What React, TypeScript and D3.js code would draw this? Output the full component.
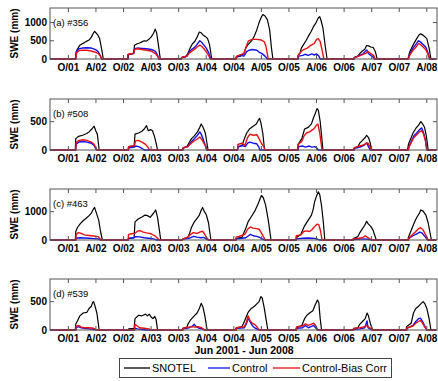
import * as d3 from 'd3'

// season k starts on Oct 1 of (2001 + k); points are [months after Oct 1, SWE mm]
type Pt = [number, number]

const snotelA: Pt[][] = [
  [[1.5,0],[1.7,200],[2.0,280],[2.5,380],[3.0,420],[3.5,450],[4.0,490],[4.5,520],[5.0,600],[5.4,700],[5.7,760],[6.0,720],[6.4,660],[6.8,560],[7.2,300],[7.6,0]],
  [[0.9,0],[1.0,120],[1.6,140],[2.2,160],[2.4,380],[3.0,420],[3.5,440],[4.0,470],[4.5,500],[5.0,490],[5.5,540],[6.0,600],[6.5,700],[6.9,820],[7.2,720],[7.6,380],[8.0,0]],
  [[0.5,0],[0.6,40],[1.5,60],[2.0,150],[2.5,300],[3.0,420],[3.5,480],[4.0,600],[4.5,740],[4.9,720],[5.3,660],[5.8,620],[6.3,560],[6.7,400],[7.2,0]],
  [[0.4,0],[0.5,50],[1.5,80],[2.2,150],[2.6,300],[3.0,380],[3.5,450],[4.0,520],[4.5,640],[5.0,800],[5.5,1000],[6.0,1150],[6.3,1220],[6.8,1180],[7.3,1080],[7.8,800],[8.2,300],[8.5,0]],
  [[1.9,0],[2.0,100],[2.4,160],[2.7,300],[3.2,400],[3.7,500],[4.2,620],[4.8,750],[5.3,880],[5.9,1000],[6.4,1130],[6.7,1160],[7.0,1050],[7.4,850],[7.9,350],[8.3,0]],
  [[2.1,0],[2.2,40],[3.0,80],[3.4,150],[4.0,220],[4.5,270],[4.9,370],[5.3,360],[5.8,330],[6.3,320],[6.8,200],[7.2,0]],
  [[1.9,0],[2.0,60],[2.3,200],[2.8,330],[3.3,450],[3.8,560],[4.3,660],[4.6,690],[5.0,670],[5.5,620],[6.0,560],[6.5,300],[6.9,0]],
]
const controlA: Pt[][] = [
  [[1.6,0],[1.8,220],[2.3,280],[3,300],[4,310],[5,300],[5.5,280],[6,250],[6.5,200],[6.9,100],[7.2,0]],
  [[1.0,0],[1.1,120],[2.2,150],[2.4,280],[3,300],[4,290],[5,280],[6,260],[6.5,240],[7,200],[7.4,100],[7.7,0]],
  [[0.6,0],[0.7,40],[1.8,80],[2.3,200],[3,280],[3.5,320],[4,400],[4.6,500],[5,460],[5.5,380],[6,300],[6.5,180],[7,0]],
  [[0.5,0],[0.6,60],[1.5,100],[2.2,80],[2.8,200],[3.3,240],[4,260],[5,240],[5.6,180],[6.2,140],[6.8,80],[7.3,0]],
  [[2.0,0],[2.1,80],[3.0,100],[3.5,130],[4.2,100],[5.0,140],[5.5,110],[6.0,140],[6.5,80],[6.8,0]],
  [[2.2,0],[2.3,40],[3.4,100],[4.2,150],[4.9,250],[5.3,150],[5.8,100],[6.3,60],[6.6,0]],
  [[2.0,0],[2.1,60],[2.5,180],[3.0,300],[3.5,380],[4.2,500],[4.6,470],[5.2,400],[5.8,320],[6.3,150],[6.6,0]],
]
const biasA: Pt[][] = [
  [[1.6,0],[1.8,170],[2.3,230],[3,240],[4,240],[5,220],[5.5,200],[6,180],[6.5,150],[7,80],[7.3,0]],
  [[0.9,0],[1.0,130],[2.2,150],[2.4,260],[3,280],[4,260],[5,240],[6,220],[6.5,180],[7,140],[7.5,60],[7.8,0]],
  [[0.6,0],[0.7,40],[1.8,80],[2.3,160],[3,230],[3.5,270],[4,330],[4.6,380],[5,350],[5.5,280],[6,200],[6.5,100],[6.9,0]],
  [[0.5,0],[0.6,80],[1.5,120],[2.2,150],[2.8,380],[3.2,500],[4,540],[5,540],[6,520],[6.6,480],[7.0,350],[7.5,0]],
  [[1.9,0],[2.0,100],[2.6,200],[3.2,260],[4.0,300],[4.8,380],[5.5,420],[6.0,540],[6.4,560],[6.8,480],[7.2,250],[7.6,0]],
  [[2.1,0],[2.2,40],[3.2,80],[4.0,120],[4.8,160],[5.3,200],[5.8,150],[6.4,100],[6.8,0]],
  [[2.0,0],[2.1,60],[2.5,150],[3.0,240],[3.6,320],[4.2,420],[4.6,400],[5.2,330],[5.8,250],[6.3,120],[6.7,0]],
]

const snotelB: Pt[][] = [
  [[1.5,0],[1.6,200],[2.2,240],[3.1,260],[4.0,290],[4.5,320],[5.2,380],[5.6,420],[6.0,330],[6.3,280],[6.7,0]],
  [[1.0,0],[1.1,60],[2.3,70],[2.5,280],[3.3,300],[4.0,330],[4.5,370],[5.0,430],[5.4,340],[5.9,360],[6.3,340],[6.7,250],[7.1,120],[7.4,0]],
  [[0.8,0],[0.9,30],[1.8,60],[2.2,120],[2.8,200],[3.4,250],[4.1,320],[4.6,400],[4.9,460],[5.3,400],[5.8,300],[6.4,0]],
  [[0.8,0],[0.9,50],[1.8,80],[2.3,200],[2.8,300],[3.4,370],[4.2,420],[4.9,460],[5.3,520],[5.6,560],[5.9,480],[6.3,300],[6.7,0]],
  [[1.9,0],[2.0,100],[2.8,200],[3.4,370],[4.2,400],[4.9,460],[5.3,560],[5.7,640],[6.1,730],[6.4,700],[6.8,500],[7.1,250],[7.4,0]],
  [[2.1,0],[2.2,30],[3.0,60],[3.4,120],[4.0,170],[4.6,220],[4.9,260],[5.3,220],[5.6,150],[6.0,0]],
  [[1.8,0],[2.0,100],[2.5,200],[3.0,300],[3.6,380],[4.2,440],[4.7,500],[5.1,460],[5.5,400],[5.9,250],[6.3,0]],
]
const controlB: Pt[][] = [
  [[1.6,0],[1.7,100],[2.3,140],[3.2,150],[4.0,140],[5.0,120],[5.6,80],[6.1,0]],
  [[1.1,0],[1.2,40],[2.4,50],[2.6,70],[3.3,60],[4.0,30],[4.5,0]],
  [[0.9,0],[1.0,40],[2.0,60],[2.5,120],[3.2,180],[4.0,250],[4.6,320],[4.9,280],[5.3,200],[5.8,80],[6.1,0]],
  [[0.8,0],[0.9,60],[1.8,80],[2.5,60],[3.0,120],[3.5,140],[4.2,120],[5.0,110],[5.4,60],[5.7,0]],
  [[2.0,0],[2.1,60],[3.0,70],[3.6,50],[4.4,70],[5.0,50],[5.6,60],[6.0,40],[6.4,0]],
  [[2.2,0],[2.3,30],[3.5,50],[4.3,80],[4.9,130],[5.3,60],[5.7,0]],
  [[2.0,0],[2.1,50],[2.6,150],[3.2,250],[3.8,300],[4.4,360],[4.9,390],[5.3,300],[5.7,180],[6.0,0]],
]
const biasB: Pt[][] = [
  [[1.6,0],[1.7,130],[2.3,170],[3.2,180],[4.0,170],[5.0,140],[5.6,100],[6.2,0]],
  [[1.0,0],[1.1,60],[2.4,80],[2.6,160],[3.2,170],[4.0,140],[4.8,100],[5.4,40],[5.7,0]],
  [[0.9,0],[1.0,40],[2.0,60],[2.5,100],[3.2,150],[4.0,190],[4.6,230],[4.9,200],[5.3,150],[5.9,60],[6.2,0]],
  [[0.8,0],[0.9,100],[1.8,120],[2.4,80],[3.0,220],[3.5,280],[4.2,260],[5.0,270],[5.5,200],[6.0,120],[6.5,60],[6.8,0]],
  [[1.9,0],[2.0,100],[2.8,150],[3.3,250],[3.8,300],[4.5,320],[5.0,350],[5.5,380],[6.0,440],[6.3,460],[6.7,300],[7.0,120],[7.2,0]],
  [[2.1,0],[2.2,40],[3.4,70],[4.2,90],[4.8,110],[5.2,120],[5.6,60],[5.9,0]],
  [[2.0,0],[2.1,50],[2.6,130],[3.2,220],[3.8,270],[4.4,320],[4.9,340],[5.3,280],[5.7,160],[6.0,0]],
]

const snotelC: Pt[][] = [
  [[1.5,0],[1.6,300],[2.0,450],[2.6,580],[3.2,680],[3.8,760],[4.5,860],[5.0,950],[5.4,1080],[5.7,1150],[6.1,950],[6.6,700],[7.0,300],[7.4,0]],
  [[1.0,0],[1.1,50],[2.3,80],[2.5,640],[3.2,740],[4.1,820],[4.7,880],[5.2,860],[5.8,800],[6.3,900],[6.7,980],[7.0,1060],[7.4,800],[7.8,350],[8.1,0]],
  [[0.8,0],[0.9,30],[2.0,100],[2.3,200],[2.8,450],[3.4,640],[4.0,760],[4.5,880],[4.9,1050],[5.2,1150],[5.6,1000],[6.0,900],[6.5,600],[7.0,0]],
  [[0.4,0],[0.5,50],[1.8,100],[2.3,300],[2.7,450],[3.1,640],[3.8,820],[4.5,1000],[5.2,1240],[5.7,1450],[6.0,1570],[6.4,1500],[6.9,1250],[7.5,700],[8.1,0]],
  [[1.5,0],[1.6,80],[2.6,200],[3.0,350],[3.4,500],[4.2,700],[4.9,880],[5.3,1100],[5.6,1360],[6.0,1550],[6.4,1700],[6.7,1600],[7.1,1200],[7.5,600],[7.8,0]],
  [[1.9,0],[2.0,50],[3.0,120],[3.4,250],[4.0,400],[4.5,520],[4.9,660],[5.3,560],[5.8,480],[6.3,350],[7.0,0]],
  [[1.9,0],[2.0,100],[2.5,300],[3.0,500],[3.5,700],[3.9,820],[4.4,950],[4.7,1060],[5.2,1020],[5.8,880],[6.3,600],[7.0,0]],
]
const controlC: Pt[][] = [
  [[1.6,0],[1.7,60],[2.5,80],[3.5,70],[4.5,60],[5.5,50],[6.5,40],[7.0,0]],
  [[1.0,0],[1.1,60],[2.3,80],[2.6,120],[3.5,110],[4.5,80],[5.5,60],[6.5,40],[7.2,0]],
  [[0.8,0],[0.9,30],[2.0,50],[2.6,80],[3.3,130],[4.0,100],[4.8,80],[5.4,90],[6.0,40],[6.4,0]],
  [[0.5,0],[0.6,40],[1.8,60],[2.6,80],[3.2,150],[3.6,200],[4.2,150],[5.0,130],[5.6,90],[6.2,40],[6.6,0]],
  [[1.6,0],[1.7,40],[3.0,60],[4.0,70],[5.0,60],[6.0,50],[6.6,0]],
  [[2.0,0],[2.1,20],[3.5,30],[4.5,40],[5.5,20],[6.0,0]],
  [[2.0,0],[2.1,60],[3.0,150],[3.8,220],[4.5,280],[5.0,240],[5.6,120],[6.2,0]],
]
const biasC: Pt[][] = [
  [[1.6,0],[1.7,200],[2.2,260],[2.8,230],[3.5,180],[4.5,160],[5.5,140],[6.5,120],[7.1,0]],
  [[1.0,0],[1.1,200],[2.0,230],[2.5,240],[3.1,320],[3.6,330],[4.3,280],[5.0,250],[6.0,220],[6.8,150],[7.4,60],[7.8,0]],
  [[0.8,0],[0.9,40],[2.0,100],[2.6,200],[3.2,260],[4.0,230],[4.6,280],[5.2,310],[5.6,220],[6.2,60],[6.6,0]],
  [[0.4,0],[0.5,100],[1.6,150],[2.4,200],[3.0,380],[3.6,460],[4.2,420],[5.0,400],[5.5,380],[6.0,250],[6.5,100],[6.8,0]],
  [[1.5,0],[1.6,150],[2.6,180],[3.2,300],[3.8,320],[4.5,300],[5.0,360],[5.6,480],[6.1,560],[6.5,540],[6.9,300],[7.2,0]],
  [[1.9,0],[2.0,40],[3.2,60],[4.0,80],[4.6,150],[5.0,100],[5.5,60],[6.0,0]],
  [[2.0,0],[2.1,60],[2.8,180],[3.5,280],[4.2,400],[4.6,430],[5.1,380],[5.7,200],[6.3,0]],
]

const snotelD: Pt[][] = [
  [[1.5,0],[1.6,100],[2.2,200],[2.5,250],[3.2,300],[4.0,310],[4.5,380],[5.0,420],[5.3,490],[5.5,500],[5.8,420],[6.2,300],[6.7,0]],
  [[1.0,0],[1.1,20],[2.3,30],[2.5,200],[3.3,260],[4.0,250],[4.5,270],[4.8,280],[5.2,250],[5.6,280],[6.0,230],[6.4,200],[6.8,240],[7.1,180],[7.4,0]],
  [[0.8,0],[0.9,30],[1.8,50],[2.0,100],[2.6,180],[3.4,250],[4.0,300],[4.5,380],[4.9,470],[5.3,400],[5.7,250],[6.2,0]],
  [[0.4,0],[0.5,40],[1.8,60],[2.3,150],[2.8,250],[3.1,310],[3.8,380],[4.5,420],[5.0,460],[5.5,500],[5.9,590],[6.2,560],[6.6,400],[7.0,200],[7.4,0]],
  [[1.5,0],[1.6,40],[2.8,80],[3.4,200],[3.9,260],[4.5,300],[5.2,340],[5.7,440],[6.2,530],[6.5,480],[6.8,200],[7.1,0]],
  [[1.9,0],[2.0,20],[3.0,40],[3.4,100],[4.0,150],[4.6,200],[5.0,300],[5.3,250],[5.7,120],[6.2,0]],
  [[1.5,0],[1.6,60],[2.6,120],[3.1,300],[3.6,380],[4.2,420],[4.8,470],[5.2,500],[5.6,460],[6.0,380],[6.5,200],[6.9,0]],
]
const controlD: Pt[][] = [
  [[1.6,0],[1.7,40],[2.2,60],[2.8,40],[3.5,30],[4.5,20],[5.5,10],[6,0]],
  [[2.4,0],[2.5,30],[3.0,20],[4.0,10],[5,0]],
  [[0.9,0],[1.0,20],[2.3,40],[3.0,70],[3.4,100],[3.8,60],[4.5,30],[5.2,20],[5.8,0]],
  [[0.5,0],[0.6,30],[2.3,40],[2.8,120],[3.1,210],[3.5,150],[4.0,80],[4.5,40],[5.0,20],[5.4,0]],
  [[1.6,0],[1.7,30],[3.0,40],[3.6,80],[4.2,40],[4.8,60],[5.4,80],[5.8,40],[6.2,0]],
  [[2.0,0],[2.1,10],[3.5,20],[4.5,40],[5.0,160],[5.2,40],[5.6,20],[6.0,0]],
  [[1.6,0],[1.7,30],[3.0,80],[3.6,150],[4.2,200],[4.6,210],[5.0,160],[5.5,80],[6.0,0]],
]
const biasD: Pt[][] = [
  [[1.6,0],[1.7,60],[2.2,80],[2.8,50],[3.5,40],[4.5,40],[5.5,30],[6.2,0]],
  [[2.4,0],[2.5,100],[3.0,70],[3.5,40],[4.5,30],[5.5,20],[6.0,0]],
  [[0.9,0],[1.0,30],[2.3,50],[3.0,60],[3.5,50],[4.2,60],[5.0,40],[5.6,0]],
  [[0.5,0],[0.6,40],[2.3,60],[2.8,150],[3.1,250],[3.5,170],[4.0,120],[4.5,100],[5.0,60],[5.5,0]],
  [[1.6,0],[1.7,60],[3.0,70],[3.6,110],[4.2,80],[4.8,100],[5.4,120],[5.8,80],[6.3,0]],
  [[2.0,0],[2.1,30],[3.5,40],[4.5,60],[5.0,80],[5.3,50],[5.8,30],[6.2,0]],
  [[1.6,0],[1.7,40],[3.0,70],[3.6,120],[4.2,150],[4.6,170],[5.0,130],[5.5,60],[6.0,0]],
]

const panelLabels = ['(a) #356', '(b) #508', '(c) #463', '(d) #539']
const panelYMax = [1400, 900, 1800, 900]
const panelYTicks = [[0, 500, 1000], [0, 500], [0, 1000], [0, 500]]
const panelSeries = [
  [snotelA, controlA, biasA],
  [snotelB, controlB, biasB],
  [snotelC, controlC, biasC],
  [snotelD, controlD, biasD],
]
const seriesNames = ['SNOTEL', 'Control', 'Control-Bias Corr']
const seriesColors = ['#000000', '#1010f0', '#e81010']
const seriesWidths = [1.2, 1.4, 1.4]
const xTickLabels = ['O/01', 'A/02', 'O/02', 'A/03', 'O/03', 'A/04', 'O/04', 'A/05', 'O/05', 'A/06', 'O/06', 'A/07', 'O/07', 'A/08']

const W = 438
const H = 381
const left = 50
const right = 437
const tops = [8, 99, 189, 279]
const ph = 51
const font = '"Liberation Sans", Arial, sans-serif'

const start = 2001 + 5 / 12
const end = 2008 + 5 / 12
const x = d3.scaleLinear().domain([start, end]).range([left, right - 1])

// decimal year for each tick: Oct 1 and Apr 1
const tickYears = xTickLabels.map((_, i) => 2001 + Math.floor(i / 2) + (i % 2 === 0 ? 0.75 : 1.25))

function toSeries(seasons: Pt[][]): [number, number][] {
  const out: [number, number][] = [[start, 0]]
  seasons.forEach((s, k) => {
    s.forEach(([m, v]) => out.push([2001 + k + 0.75 + m / 12, v]))
  })
  out.push([end, 0])
  return out
}

function Panel({ idx }: { idx: number }) {
  const top = tops[idx]
  const bottom = top + ph
  const y = d3.scaleLinear().domain([0, panelYMax[idx]]).range([bottom, top])
  const line = d3.line<[number, number]>().x(d => x(d[0])).y(d => y(d[1]))
  return (
    <g>
      {panelSeries[idx].map((s, j) => (
        <path key={j} d={line(toSeries(s)) || ''} fill="none"
          stroke={seriesColors[j]} strokeWidth={seriesWidths[j]} strokeLinejoin="round" />
      ))}
      <rect x={left} y={top} width={right - left} height={ph} fill="none" stroke="#555" strokeWidth={1} />
      {tickYears.map((t, i) => (
        <g key={i}>
          <line x1={x(t)} x2={x(t)} y1={top} y2={top + 4} stroke="#555" />
          <line x1={x(t)} x2={x(t)} y1={bottom} y2={bottom - 4} stroke="#555" />
          <text x={x(t)} y={bottom + 12} textAnchor="middle" fontSize={10} fontWeight="bold"
            fontFamily={font}>{xTickLabels[i]}</text>
        </g>
      ))}
      {panelYTicks[idx].map(v => (
        <g key={v}>
          <line x1={left} x2={left + 4} y1={y(v)} y2={y(v)} stroke="#555" />
          <line x1={right} x2={right - 4} y1={y(v)} y2={y(v)} stroke="#555" />
          <text x={47} y={y(v) + 3.5} textAnchor="end" fontSize={10} fontWeight="bold"
            fontFamily={font}>{v}</text>
        </g>
      ))}
      <text x={53} y={top + 18} fontSize={9.5} fontFamily={font}>{panelLabels[idx]}</text>
      <text transform={`translate(18,${top + ph / 2}) rotate(-90)`} textAnchor="middle"
        fontSize={10} fontWeight="bold" fontFamily={font}>SWE (mm)</text>
    </g>
  )
}

const legendLines = [[124, 150], [208, 230], [273, 300]]
const legendText = [152, 232, 302]

export default function App() {
  return (
    <svg width={W} height={H} style={{ position: 'absolute', left: 0, top: 0, background: '#fff' }}>
      <rect width={W} height={H} fill="#fff" />
      {tops.map((_, i) => <Panel key={i} idx={i} />)}
      <text x={244} y={354} textAnchor="middle" fontSize={10.5} fontWeight="bold" fontFamily={font}>
        Jun 2001 - Jun 2008
      </text>
      <rect x={119.5} y={358.5} width={272} height={19} fill="#fff" stroke="#444" />
      {seriesNames.map((n, j) => (
        <g key={n}>
          <line x1={legendLines[j][0]} x2={legendLines[j][1]} y1={368} y2={368}
            stroke={seriesColors[j]} strokeWidth={1.3} />
          <text x={legendText[j]} y={372} fontSize={11} fontFamily={font}>{n}</text>
        </g>
      ))}
    </svg>
  )
}
